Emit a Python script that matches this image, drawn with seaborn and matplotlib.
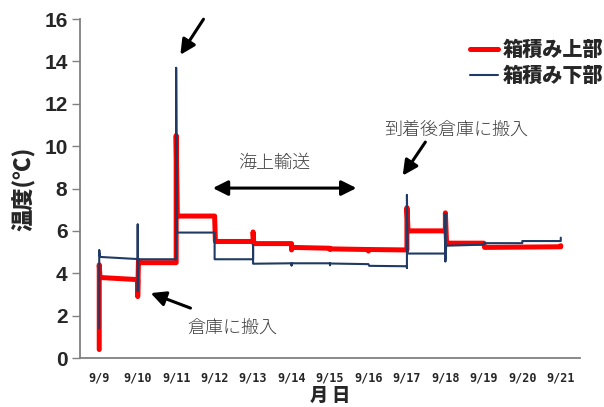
import numpy as np
import pandas as pd
import matplotlib
matplotlib.use("Agg")
import matplotlib.pyplot as plt
import seaborn as sns

# x = days since 9/9, y = temperature
upper_x = [0, 0, 0.02, 1.0, 1.0, 1.02, 1.04, 2.0, 2.0, 2.03, 3.0, 3.02, 4.0, 4.0, 4.02,
           5.0, 5.0, 5.02, 6.0, 6.0, 6.02, 7.0, 7.0, 7.02, 8.0, 8.0, 8.03, 9.0, 9.0,
           9.03, 10.0, 10.02, 12.0, 12.0]
upper_y = [0.4, 4.4, 3.8, 3.7, 2.9, 4.6, 4.5, 4.5, 10.5, 6.7, 6.7, 5.5, 5.5, 5.95, 5.4,
           5.4, 5.1, 5.22, 5.18, 5.12, 5.15, 5.12, 5.05, 5.12, 5.1, 7.1, 6.0, 6.0, 6.85,
           5.42, 5.42, 5.22, 5.25, 5.3]

lower_x = [0, 0, 0.02, 1.0, 1.0, 1.0, 1.02, 2.0, 2.0, 2.02, 3.0, 3.0, 4.0, 4.0, 4.0,
           5.0, 5.0, 5.0, 6.0, 6.0, 6.0, 7.0, 7.02, 8.0, 8.0, 8.0, 8.02, 9.0, 9.0,
           9.0, 9.02, 10.0, 10.0, 11.0, 11.0, 12.0, 12.0]
lower_y = [1.4, 5.1, 4.77, 4.67, 6.3, 3.15, 4.66, 4.66, 13.7, 5.92, 5.92, 4.66, 4.66, 5.33,
           4.45, 4.47, 4.37, 4.47, 4.47, 4.38, 4.46, 4.43, 4.35, 4.33, 4.25, 7.7, 4.93,
           4.93, 6.8, 4.55, 5.3, 5.35, 5.42, 5.42, 5.52, 5.52, 5.68]

day_labels = ["9/9", "9/10", "9/11", "9/12", "9/13", "9/14", "9/15", "9/16",
              "9/17", "9/18", "9/19", "9/20", "9/21"]
y_ticks = [0, 2, 4, 6, 8, 10, 12, 14, 16]

sns.set_style("white")
plt.rcParams['font.family'] = ['Noto Sans CJK JP', 'DejaVu Sans']

fig = plt.figure(figsize=(6.04, 4.07), dpi=100)
ax = fig.add_axes([80 / 604, 49 / 407, 500 / 604, 339 / 407])

df_up = pd.DataFrame({"day": upper_x, "temp": upper_y})
df_lo = pd.DataFrame({"day": lower_x, "temp": lower_y})

sns.lineplot(data=df_up, x="day", y="temp", sort=False, estimator=None,
             color="#FF0000", lw=3.6, label="箱積み上部", ax=ax)
sns.lineplot(data=df_lo, x="day", y="temp", sort=False, estimator=None,
             color="#1F3A64", lw=1.5, label="箱積み下部", ax=ax)

ax.set_xlim(-0.5, 12.5)
ax.set_ylim(0, 16)
ax.set_xticks(range(len(day_labels)))
ax.set_xticklabels(day_labels, family="DejaVu Sans Mono", fontweight="bold", fontsize=8.5)
ax.set_yticks(y_ticks)
ax.set_yticklabels([str(v) for v in y_ticks], family="Liberation Sans",
                   fontweight="bold", fontsize=15)
ax.tick_params(axis="y", direction="out", length=6, width=1, color="#808080", pad=3, left=True)
ax.tick_params(axis="x", length=0, pad=10)

for side in ["top", "right"]:
    ax.spines[side].set_visible(False)
for side in ["left", "bottom"]:
    ax.spines[side].set_color("#808080")
    ax.spines[side].set_linewidth(1.3)

ax.set_xlabel("月 日", fontsize=13, fontweight="heavy", labelpad=1)
ax.set_ylabel("温度(℃)", fontsize=16, fontweight="heavy", labelpad=6)

leg = ax.legend(loc="upper left", bbox_to_anchor=(462 / 604, 1 - 32 / 407),
                bbox_transform=fig.transFigure, frameon=False, handlelength=1.4,
                handletextpad=0.2, labelspacing=0.3, borderaxespad=0,
                prop={"size": 14.5, "weight": "heavy"})

arrow = dict(arrowstyle="-|>,head_length=0.9,head_width=0.45", color="black", lw=2.2)
ax.annotate("", xy=(2.07, 14.2), xytext=(2.75, 16.1), arrowprops=arrow, annotation_clip=False)
ax.annotate("", xy=(1.27, 3.11), xytext=(2.44, 2.31), arrowprops=arrow)
ax.annotate("", xy=(7.85, 8.5), xytext=(8.52, 10.3), arrowprops=arrow)
ax.annotate("", xy=(2.88, 8.02), xytext=(6.76, 8.02),
            arrowprops=dict(arrowstyle="<|-|>,head_length=0.9,head_width=0.45",
                            color="black", lw=2.2))

note = dict(ha="center", va="center", fontsize=13, color="#404040", fontweight="light")
ax.text(4.56, 9.2, "海上輸送", **note)
ax.text(9.27, 10.76, "到着後倉庫に搬入", **note)
ax.text(3.45, 1.42, "倉庫に搬入", **note)

fig.savefig("out.png", dpi=100)
